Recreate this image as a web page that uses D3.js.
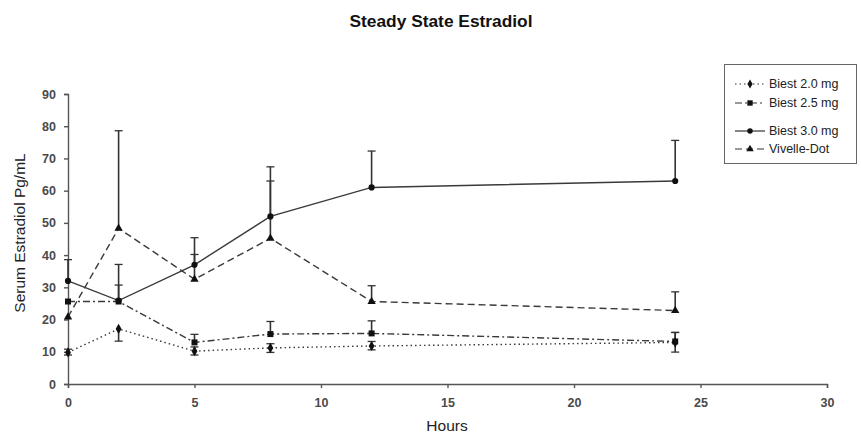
<!DOCTYPE html>
<html>
<head>
<meta charset="utf-8">
<script src="https://cdn.jsdelivr.net/npm/d3@7"></script>
<style>
  body { margin: 0; background: #fff; }
  svg { font-family: "Liberation Sans", Arial, sans-serif; }
</style>
</head>
<body>
<svg id="chart" width="861" height="435"></svg>
<script>
// data
const hours = [0, 2, 5, 8, 12, 24];
const seriesNames = ["Biest 2.0 mg", "Biest 2.5 mg", "Biest 3.0 mg", "Vivelle-Dot"];
const biest20 = [9.8, 17.1, 10.2, 11.2, 11.8, 12.9];
const biest25 = [25.6, 25.6, 12.9, 15.5, 15.7, 13.2];
const biest30 = [32.0, 25.9, 37.0, 52.0, 61.0, 63.0];
const vivelle = [20.8, 48.3, 32.5, 45.2, 25.6, 22.8];
// error bar ends (upper, lower)
const biest20Up = [10.8, 17.1, 11.5, 12.5, 13.2, 16.0];
const biest20Lo = [9.0, 13.3, 9.0, 9.8, 10.6, 9.9];
const biest25Up = [25.6, 30.7, 15.4, 19.4, 19.6, 16.0];
const biest30Up = [38.6, 37.1, 45.4, 67.4, 72.3, 75.6];
const vivelleUp = [20.8, 78.6, 40.2, 63.0, 30.5, 28.6];
const xTicks = [0, 5, 10, 15, 20, 25, 30];
const yTicks = [0, 10, 20, 30, 40, 50, 60, 70, 80, 90];

const width = 861;
const height = 435;
const margin = { left: 68, right: 34, top: 94, bottom: 51 };

const svg = d3.select("#chart");

const x = d3.scaleLinear().domain([0, 30]).range([margin.left, width - margin.right]);
const y = d3.scaleLinear().domain([0, 90]).range([height - margin.bottom, margin.top]);

const series = [
  { name: seriesNames[0], values: biest20, up: biest20Up, lo: biest20Lo, dash: "1.5,3", symbol: d3.symbolDiamond, size: 30 },
  { name: seriesNames[1], values: biest25, up: biest25Up, lo: biest25, dash: "7,3,2,3", symbol: d3.symbolSquare, size: 36 },
  { name: seriesNames[2], values: biest30, up: biest30Up, lo: biest30, dash: null, symbol: d3.symbolCircle, size: 30 },
  { name: seriesNames[3], values: vivelle, up: vivelleUp, lo: vivelle, dash: "7,4", symbol: d3.symbolTriangle, size: 30 }
];

// title (condensed bold in the original)
svg.append("text")
  .attr("x", 441)
  .attr("y", 27)
  .attr("text-anchor", "middle")
  .attr("font-size", 16)
  .attr("font-weight", "bold")
  .attr("fill", "#111")
  .attr("textLength", 183)
  .attr("lengthAdjust", "spacingAndGlyphs")
  .text("Steady State Estradiol");

// axes
const xAxis = svg.append("g")
  .attr("transform", "translate(0," + y(0) + ")")
  .call(d3.axisBottom(x).tickValues(xTicks).tickSize(4).tickPadding(10));

const yAxis = svg.append("g")
  .attr("transform", "translate(" + x(0) + ",0)")
  .call(d3.axisLeft(y).tickValues(yTicks).tickSize(4).tickPadding(8));

[xAxis, yAxis].forEach(a => {
  a.select(".domain").attr("stroke", "#555").attr("stroke-width", 1.4);
  a.selectAll(".tick line").attr("stroke", "#555").attr("stroke-width", 1.4);
  a.selectAll(".tick text")
    .attr("font-size", 12.5)
    .attr("font-weight", "bold")
    .attr("fill", "#4a4a4a")
    .attr("font-family", "Liberation Sans, Arial, sans-serif");
});

svg.append("text")
  .attr("x", 447)
  .attr("y", 431)
  .attr("text-anchor", "middle")
  .attr("font-size", 15.5)
  .attr("fill", "#222")
  .text("Hours");

svg.append("text")
  .attr("transform", "translate(25,233) rotate(-90)")
  .attr("text-anchor", "middle")
  .attr("font-size", 15.5)
  .attr("fill", "#222")
  .text("Serum Estradiol Pg/mL");

// error bars
series.forEach(s => {
  const g = svg.append("g");
  hours.forEach((h, i) => {
    const top = s.up[i];
    const bot = s.lo[i];
    if (top - bot < 0.3) return;
    g.append("line")
      .attr("x1", x(h)).attr("x2", x(h))
      .attr("y1", y(top)).attr("y2", y(bot))
      .attr("stroke", "#333").attr("stroke-width", 1.6);
    if (top > s.values[i] + 0.3) {
      g.append("line")
        .attr("x1", x(h) - 4).attr("x2", x(h) + 4)
        .attr("y1", y(top)).attr("y2", y(top))
        .attr("stroke", "#333").attr("stroke-width", 1.3);
    }
    if (bot < s.values[i] - 0.3) {
      g.append("line")
        .attr("x1", x(h) - 4).attr("x2", x(h) + 4)
        .attr("y1", y(bot)).attr("y2", y(bot))
        .attr("stroke", "#333").attr("stroke-width", 1.3);
    }
  });
});

// lines
const line = d3.line()
  .x((d, i) => x(hours[i]))
  .y(d => y(d));

series.forEach(s => {
  svg.append("path")
    .datum(s.values)
    .attr("d", line)
    .attr("fill", "none")
    .attr("stroke", "#3a3a3a")
    .attr("stroke-width", 1.4)
    .attr("stroke-dasharray", s.dash);

  svg.append("g")
    .selectAll("path")
    .data(s.values)
    .enter()
    .append("path")
    .attr("transform", (d, i) => "translate(" + x(hours[i]) + "," + y(d) + ")")
    .attr("d", d3.symbol().type(s.symbol).size(s.size))
    .attr("fill", "#111");
});

// legend
const legend = svg.append("g");
legend.append("rect")
  .attr("x", 724.5).attr("y", 64.5)
  .attr("width", 132).attr("height", 99)
  .attr("fill", "#fff")
  .attr("stroke", "#666")
  .attr("stroke-width", 1);

const legendY = [84, 103, 131, 149];
series.forEach((s, i) => {
  const item = legend.append("g").attr("transform", "translate(0," + legendY[i] + ")");
  item.append("line")
    .attr("x1", 735).attr("x2", 765)
    .attr("y1", 0).attr("y2", 0)
    .attr("stroke", "#333")
    .attr("stroke-width", 1.2)
    .attr("stroke-dasharray", s.dash);
  item.append("path")
    .attr("transform", "translate(750,0)")
    .attr("d", d3.symbol().type(s.symbol).size(s.size * 0.8))
    .attr("fill", "#111");
  item.append("text")
    .attr("x", 769)
    .attr("y", 4)
    .attr("font-size", 12.5)
    .attr("fill", "#222")
    .text(s.name);
});
</script>
</body>
</html>
